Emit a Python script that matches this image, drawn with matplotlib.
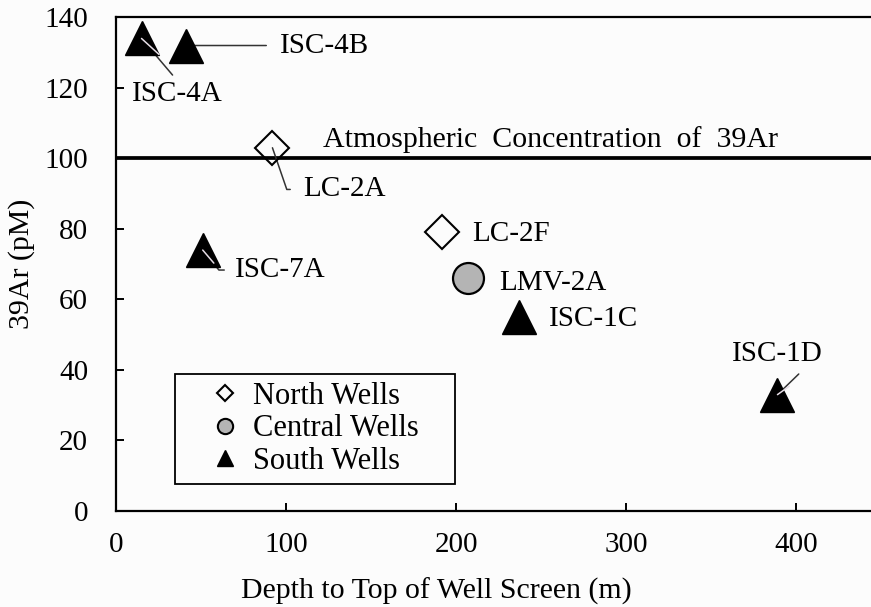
#!/usr/bin/env python

import matplotlib
matplotlib.use('Agg')
import matplotlib.pyplot as plt
from matplotlib.lines import Line2D

# data
wells = ['ISC-4A', 'ISC-4B', 'LC-2A', 'ISC-7A', 'LC-2F', 'LMV-2A', 'ISC-1C', 'ISC-1D']
depth = [15, 41, 92, 51, 192, 207, 237, 389]
ar39 = [134, 132, 103, 74, 79, 66, 55, 33]
group = ['South', 'South', 'North', 'South', 'North', 'Central', 'South', 'South']

atmos_ar39 = 100
atmos_label = 'Atmospheric  Concentration  of  39Ar'
legend_labels = ['North Wells', 'Central Wells', 'South Wells']


def main():

    plt.rcParams['font.family'] = ['Liberation Serif', 'DejaVu Serif']
    fs = 21

    fig = plt.figure(figsize=(8.71, 6.07), dpi=100, facecolor='#fcfcfc')
    ax = fig.add_axes([116 / 871, 96 / 607, 755 / 871, 493.7 / 607])
    ax.set_facecolor('#fcfcfc')

    # marker styles per group
    styles = {
        'North': dict(marker='D', ms=17, mfc='none', mec='k', mew=1.5),
        'Central': dict(marker='o', ms=22.3, mfc='#b4b4b4', mec='k', mew=1.6),
        'South': dict(marker='^', ms=24.5, mfc='k', mec='k', mew=1.0),
    }

    for x, y, g in zip(depth, ar39, group):
        ax.plot([x], [y], ls='none', zorder=3, **styles[g])

    ax.axhline(atmos_ar39, color='k', lw=2.7, zorder=1)
    ax.text(122, 103.3, atmos_label, fontsize=21.5, va='baseline', ha='left')

    # label placement: offset (pt), alignment, leader line settings
    labels = {
        'ISC-4A': dict(off=(26, -40), ha='center', relpos=(0.5, 1.0),
                       shrink=3, conn='arc3', inner=(12.6, -11.5)),
        'ISC-4B': dict(off=(68, 0), ha='left', relpos=(0.0, 0.5),
                       shrink=8, conn='arc3', inner=None),
        'LC-2A': dict(off=(21.8, -30), ha='left', relpos=(0.0, 0.5),
                      shrink=7, conn='angle,angleA=0,angleB=-71,rad=0', inner=None),
        'ISC-7A': dict(off=(23.5, -14.4), ha='left', relpos=(0.0, 0.5),
                       shrink=6, conn='angle,angleA=0,angleB=-51,rad=0', inner=(8, -9.4)),
        'LC-2F': dict(off=(21.6, -1.5), ha='left'),
        'LMV-2A': dict(off=(22.3, -3.2), ha='left'),
        'ISC-1C': dict(off=(21.8, -1.4), ha='left'),
        'ISC-1D': dict(off=(0, 29), ha='center', relpos=(0.81, 0.0),
                       shrink=4, conn='arc3', inner=(8.4, 6)),
    }

    for name, x, y in zip(wells, depth, ar39):
        lab = labels[name]
        arrow = None
        if 'relpos' in lab:
            arrow = dict(arrowstyle='-', color='#333333', lw=1.1,
                         shrinkA=lab['shrink'], shrinkB=0,
                         relpos=lab['relpos'],
                         connectionstyle=lab['conn'])
        ax.annotate(name, xy=(x, y), xytext=lab['off'],
                    textcoords='offset points', ha=lab['ha'], va='center',
                    fontsize=fs, arrowprops=arrow, zorder=2)
        if lab.get('inner'):
            # light part of the leader seen across the solid marker
            ax.annotate('', xy=(x, y), xytext=lab['inner'],
                        textcoords='offset points',
                        arrowprops=dict(arrowstyle='-', color='#e6dde6', lw=1.1,
                                        shrinkA=0, shrinkB=0),
                        zorder=4)

    # axes
    ax.set_xlim(0, 444)
    ax.set_ylim(0, 140)
    ax.set_xticks([0, 100, 200, 300, 400])
    ax.set_yticks(range(0, 141, 20))
    ax.tick_params(direction='in', length=6, width=1.4, labelsize=fs,
                   top=False, right=False)
    ax.tick_params(axis='x', pad=15)
    ax.tick_params(axis='y', pad=20)
    for side in ['left', 'bottom', 'top']:
        ax.spines[side].set_linewidth(1.6)
    ax.spines['right'].set_visible(False)

    ax.set_xlabel('Depth to Top of Well Screen (m)', fontsize=21.5)
    ax.xaxis.set_label_coords((436 - 116) / 755, -0.135)
    ax.set_ylabel('39Ar (pM)', fontsize=21.5)
    ax.yaxis.set_label_coords(-0.107, 0.5)

    # legend
    handles = [
        Line2D([], [], ls='none', marker='D', ms=8, mfc='none', mec='k', mew=1.5),
        Line2D([], [], ls='none', marker='o', ms=11, mfc='#b4b4b4', mec='k', mew=1.5),
        Line2D([], [], ls='none', marker='^', ms=12, mfc='k', mec='k'),
    ]
    leg = ax.legend(handles, legend_labels, loc='upper left',
                    bbox_to_anchor=(0.078, 0.0547, 0.371, 0.2228),
                    mode='expand', borderaxespad=0, fontsize=22,
                    handlelength=2.8, handletextpad=-0.49, borderpad=0.25,
                    labelspacing=0.12, fancybox=False, framealpha=1,
                    edgecolor='k', facecolor='#fcfcfc')
    leg.get_frame().set_linewidth(1.3)

    fig.savefig('out.png', dpi=100, facecolor=fig.get_facecolor())


if __name__ == '__main__':

    main()
